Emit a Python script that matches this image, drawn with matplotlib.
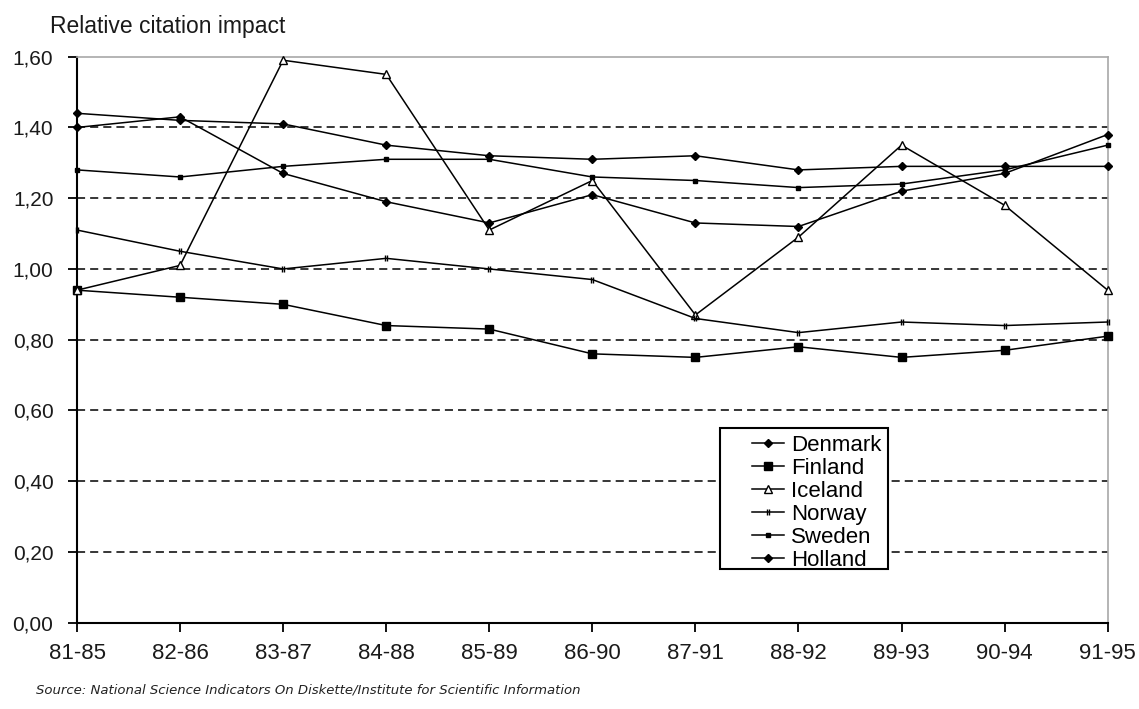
import matplotlib
matplotlib.use("Agg")
import matplotlib.pyplot as plt
from matplotlib.path import Path
from matplotlib.patches import Rectangle
from matplotlib.ticker import FuncFormatter, MultipleLocator

periods = ["81-85", "82-86", "83-87", "84-88", "85-89", "86-90",
           "87-91", "88-92", "89-93", "90-94", "91-95"]
denmark = [1.44, 1.42, 1.41, 1.35, 1.32, 1.31, 1.32, 1.28, 1.29, 1.29, 1.29]
finland = [0.94, 0.92, 0.90, 0.84, 0.83, 0.76, 0.75, 0.78, 0.75, 0.77, 0.81]
iceland = [0.94, 1.01, 1.59, 1.55, 1.11, 1.25, 0.87, 1.09, 1.35, 1.18, 0.94]
norway = [1.11, 1.05, 1.00, 1.03, 1.00, 0.97, 0.86, 0.82, 0.85, 0.84, 0.85]
sweden = [1.28, 1.26, 1.29, 1.31, 1.31, 1.26, 1.25, 1.23, 1.24, 1.28, 1.35]
holland = [1.40, 1.43, 1.27, 1.19, 1.13, 1.21, 1.13, 1.12, 1.22, 1.27, 1.38]

y_title = "Relative citation impact"
source = "Source: National Science Indicators On Diskette/Institute for Scientific Information"

plt.rcParams['font.family'] = ['Liberation Sans', 'DejaVu Sans']

W, H = 1139, 709
fig = plt.figure(figsize=(W / 100, H / 100), dpi=100)
ax = fig.add_axes([77 / W, 1 - 622.7 / H, (1107.7 - 77) / W, (622.7 - 56.7) / H])

x = list(range(len(periods)))

norway_marker = Path([(-0.35, -1), (-0.35, 1), (0.35, -1), (0.35, 1)],
                     [Path.MOVETO, Path.LINETO, Path.MOVETO, Path.LINETO])

lw = 1.1
series = [
    ("Denmark", denmark, dict(marker="D", ms=4.5, mfc="black", mec="black")),
    ("Finland", finland, dict(marker="s", ms=5.5, mfc="black", mec="black")),
    ("Iceland", iceland, dict(marker="^", ms=6, mfc="white", mec="black", mew=1.0)),
    ("Norway", norway, dict(marker=norway_marker, ms=4.5, mec="black", mew=1.0)),
    ("Sweden", sweden, dict(marker="s", ms=3.5, mfc="black", mec="black")),
    ("Holland", holland, dict(marker="D", ms=4.5, mfc="black", mec="black")),
]

handles = []
for name, vals, kw in series:
    h, = ax.plot(x, vals, color="black", lw=lw, label=name, clip_on=False, zorder=3, **kw)
    handles.append(h)

ax.set_xlim(0, len(periods) - 1)
ax.set_ylim(0, 1.6)
ax.yaxis.set_major_locator(MultipleLocator(0.2))
ax.yaxis.set_major_formatter(FuncFormatter(lambda v, p: f"{v:.2f}".replace(".", ",")))
ax.set_xticks(x)
ax.set_xticklabels(periods)

for v in [0.2, 0.4, 0.6, 0.8, 1.0, 1.2, 1.4]:
    ax.axhline(v, color="black", lw=1.1, linestyle=(0, (5.3, 3.3)), zorder=1)

for s in ["top", "right"]:
    ax.spines[s].set_color("#a8a8a8")
    ax.spines[s].set_linewidth(1.2)
for s in ["left", "bottom"]:
    ax.spines[s].set_color("black")
    ax.spines[s].set_linewidth(1.5)

ax.tick_params(axis="y", direction="out", length=6.5, width=1.3, pad=10.5,
               labelsize=15, colors="black", labelcolor="#1a1a1a")
ax.tick_params(axis="x", direction="out", length=6.5, width=1.3, pad=8,
               labelsize=16, colors="black", labelcolor="#1a1a1a")

fig.text(50 / W, 1 - 26 / H, y_title, fontsize=16.5, va="center", ha="left", color="#1a1a1a")
fig.text(36 / W, 1 - 690 / H, source, fontsize=9.5, style="italic", va="center",
         ha="left", color="#222222", family=["DejaVu Sans"])

# legend frame
fig.patches.append(Rectangle((720 / W, 1 - 569 / H), (888 - 720) / W, (569 - 428) / H,
                             transform=fig.transFigure, fill=True, facecolor="white",
                             edgecolor="black", lw=1.5, zorder=4))
leg = fig.legend(handles=handles, loc="upper left",
                 bbox_to_anchor=(752 / W, 1 - 435 / H), frameon=False,
                 fontsize=16, borderpad=0, labelspacing=0.09, handlelength=1.45,
                 handletextpad=0.3, borderaxespad=0)
leg.set_zorder(5)

fig.savefig("out.png", dpi=100)
